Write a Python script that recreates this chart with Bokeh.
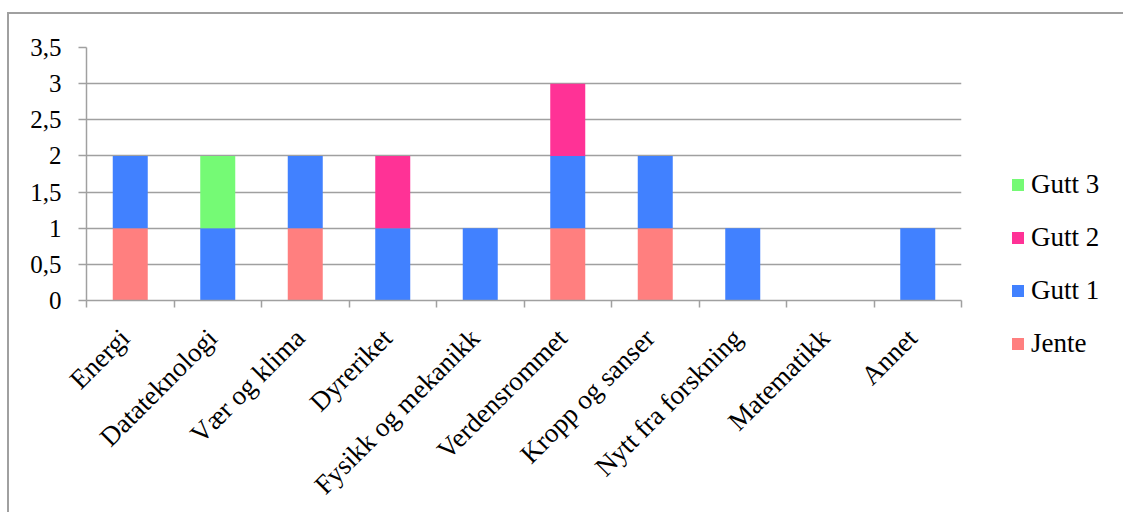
from bokeh.plotting import figure
from bokeh.models import (Range1d, FixedTicker, Legend, LegendItem, ColumnDataSource)
from bokeh.embed import file_html
from bokeh.resources import INLINE
import math

categories = ["Energi", "Datateknologi", "Vær og klima", "Dyreriket", "Fysikk og mekanikk",
              "Verdensrommet", "Kropp og sanser", "Nytt fra forskning", "Matematikk", "Annet"]
jente = [1, 0, 1, 0, 0, 1, 1, 0, 0, 0]
gutt1 = [1, 1, 1, 1, 1, 1, 1, 1, 0, 1]
gutt2 = [0, 0, 0, 1, 0, 1, 0, 0, 0, 0]
gutt3 = [0, 1, 0, 0, 0, 0, 0, 0, 0, 0]
series_names = ["Jente", "Gutt 1", "Gutt 2", "Gutt 3"]
series_colors = ["#ff7f7f", "#4181ff", "#ff3296", "#75fa75"]
y_ticks = [0, 0.5, 1, 1.5, 2, 2.5, 3, 3.5]
y_tick_labels = ["0", "0,5", "1", "1,5", "2", "2,5", "3", "3,5"]

FONT = "Liberation Serif"
GRID = "#a0a0a0"

x_pos = [i + 0.5 for i in range(len(categories))]
label_pos = [x - 0.06 for x in x_pos]
source = ColumnDataSource(dict(x=x_pos, Jente=jente, **{"Gutt 1": gutt1, "Gutt 2": gutt2, "Gutt 3": gutt3}))

p = figure(frame_width=875, frame_height=253, output_backend="svg", toolbar_location=None,
           x_range=Range1d(0, len(categories)), y_range=Range1d(0, 3.5),
           min_border_left=86, min_border_right=162, min_border_top=47, min_border_bottom=212)
p.outline_line_color = None
p.background_fill_color = "white"
p.border_fill_color = None
p.styles = {
    "background": ("linear-gradient(#a0a0a0,#a0a0a0) 8px 12px / 1115px 2px no-repeat, "
                   "linear-gradient(#a0a0a0,#a0a0a0) 7px 12px / 2px 500px no-repeat, white"),
}

renderers = p.vbar_stack(series_names, x="x", width=0.4, source=source,
                         color=series_colors, line_color=None)

# axes
xt = FixedTicker(ticks=label_pos, minor_ticks=list(range(len(categories) + 1)))
p.xaxis.ticker = xt
p.xaxis.major_label_overrides = {x: c for x, c in zip(label_pos, categories)}
p.xaxis.major_label_orientation = math.pi / 4
p.xaxis.major_tick_out = 0
p.xaxis.major_tick_in = 0
p.xaxis.major_tick_line_color = None
p.xaxis.minor_tick_out = 7
p.xaxis.minor_tick_in = 0
p.xaxis.minor_tick_line_color = GRID
p.xaxis.minor_tick_line_width = 1.5
p.xaxis.axis_line_color = GRID
p.xaxis.axis_line_width = 1.5
p.xaxis.major_label_text_font = FONT
p.xaxis.major_label_text_font_size = "27px"
p.xaxis.major_label_text_color = "black"
p.xaxis.major_label_standoff = 26

yt = FixedTicker(ticks=y_ticks, minor_ticks=[])
p.yaxis.ticker = yt
p.yaxis.major_label_overrides = {t: l for t, l in zip(y_ticks, y_tick_labels)}
p.yaxis.major_tick_out = 8
p.yaxis.major_tick_in = 0
p.yaxis.minor_tick_line_color = None
p.yaxis.major_tick_line_color = GRID
p.yaxis.major_tick_line_width = 1.5
p.yaxis.axis_line_color = GRID
p.yaxis.axis_line_width = 1.5
p.yaxis.major_label_text_font = FONT
p.yaxis.major_label_text_font_size = "25px"
p.yaxis.major_label_text_color = "black"
p.yaxis.major_label_standoff = 17

p.xgrid.visible = False
p.ygrid.ticker = yt
p.ygrid.grid_line_color = GRID
p.ygrid.grid_line_width = 1.5

items = [LegendItem(label=n, renderers=[r]) for n, r in reversed(list(zip(series_names, renderers)))]
legend = Legend(items=items, location=(49, -59), orientation="vertical",
                glyph_width=15, glyph_height=15, label_height=30, spacing=22,
                label_standoff=6, padding=0, margin=0,
                label_text_font=FONT, label_text_font_size="27px", label_text_color="black",
                border_line_color=None, background_fill_alpha=0)
p.add_layout(legend, "right")

open("out.html", "w").write(file_html(p, INLINE))
